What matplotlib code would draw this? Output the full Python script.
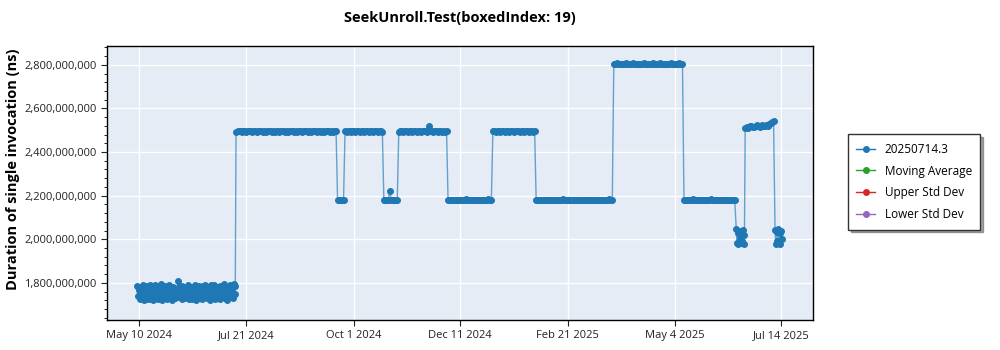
import matplotlib
matplotlib.use('Agg')
import matplotlib.pyplot as plt
import matplotlib.ticker as mticker
import pandas as pd

plt.rcParams['font.family'] = ['Open Sans', 'DejaVu Sans']

# values in millions of ns
# first block: two runs a day from May 9 2024
a_start = '2024-05-09'
seg_a = [1786, 1738, 1765, 1724, 1779, 1752, 1733, 1790, 1745, 1721,
         1771, 1758, 1728, 1784, 1741, 1769, 1725, 1792, 1749, 1736,
         1775, 1722, 1761, 1788, 1731, 1756, 1744, 1780, 1727, 1767,
         1739, 1793, 1753, 1720, 1776, 1747, 1734, 1785, 1760, 1726,
         1772, 1743, 1789, 1730, 1764, 1751, 1723, 1782, 1737, 1768,
         1729, 1774, 1755, 1742, 1808, 1733, 1781, 1746, 1762, 1727,
         1787, 1740, 1770, 1732, 1759, 1778, 1736, 1791, 1748, 1724,
         1766, 1744, 1783, 1728, 1773, 1754, 1735, 1789, 1742, 1721,
         1777, 1750, 1731, 1786, 1763, 1738, 1770, 1725, 1784, 1747,
         1734, 1792, 1757, 1729, 1779, 1741, 1768, 1722, 1788, 1752,
         1737, 1775, 1745, 1790, 1727, 1764, 1749, 1781, 1733, 1771,
         1726, 1785, 1758, 1739, 1776, 1744, 1793, 1730, 1767, 1748,
         1720, 1782, 1755, 1736, 1789, 1761, 1741, 1774, 1729, 1794,
         1750, 1787]

# one run a day from Jul 14 2024
main_start = '2024-07-14'
seg_b = [2494, 2496, 2495, 2497, 2493, 2495, 2496, 2494, 2495, 2498,
         2495, 2493, 2496, 2495, 2494, 2497, 2495, 2496, 2493, 2495,
         2494, 2496, 2495, 2497, 2494, 2495, 2493, 2496, 2495, 2494,
         2497, 2495, 2496, 2493, 2495, 2494, 2496, 2495, 2497, 2494,
         2495, 2493, 2496, 2495, 2494, 2498, 2495, 2496, 2494, 2495,
         2493, 2496, 2495, 2497, 2494, 2495, 2496, 2493, 2495, 2494,
         2496, 2495, 2497, 2494, 2495, 2493, 2496, 2495]
seg_c = [2181, 2179, 2182, 2180, 2181]
seg_d = [2495, 2494, 2496, 2495, 2493, 2497, 2495, 2494, 2496, 2495,
         2494, 2495, 2497, 2493, 2496, 2495, 2494, 2496, 2495, 2493,
         2495, 2497, 2494, 2496, 2495, 2494]
seg_e = [2180, 2181, 2179, 2182, 2222, 2180, 2178, 2181, 2180, 2182]
seg_f = [2494, 2496, 2495, 2493, 2497, 2495, 2494, 2496, 2495, 2494,
         2495, 2497, 2493, 2496, 2495, 2494, 2496, 2495, 2497, 2494,
         2521, 2495, 2496, 2493, 2495, 2497, 2494, 2495, 2496, 2494,
         2495, 2493, 2496]
seg_g = [2180, 2181, 2179, 2182, 2180, 2178, 2181, 2180, 2182, 2179,
         2181, 2180, 2183, 2179, 2180, 2181, 2178, 2182, 2180, 2181,
         2179, 2180, 2182, 2181, 2179, 2180, 2181, 2183, 2180, 2179]
seg_h = [2495, 2496, 2494, 2497, 2495, 2493, 2496, 2495, 2494, 2498,
         2495, 2494, 2496, 2495, 2493, 2497, 2495, 2496, 2494, 2495,
         2496, 2493, 2495, 2497, 2494, 2495, 2496, 2494, 2495]
seg_i = [2180, 2181, 2179, 2182, 2180, 2181, 2178, 2180, 2182, 2179,
         2181, 2180, 2179, 2182, 2180, 2181, 2179, 2180, 2183, 2181,
         2179, 2180, 2182, 2180, 2181, 2179, 2180, 2181, 2182, 2179,
         2180, 2181, 2180, 2178, 2182, 2180, 2181, 2179, 2180, 2182,
         2181, 2179, 2180, 2181, 2180, 2182, 2179, 2181, 2180, 2183,
         2180, 2181]
seg_j = [2806, 2805, 2807, 2804, 2806, 2805, 2803, 2806, 2807, 2805,
         2804, 2806, 2805, 2807, 2804, 2806, 2805, 2803, 2806, 2805,
         2807, 2804, 2806, 2805, 2806, 2804, 2807, 2805, 2806, 2804,
         2805, 2807, 2806, 2804, 2805, 2806, 2803, 2805, 2807, 2806,
         2804, 2805, 2806, 2804, 2807, 2805, 2806]
seg_k = [2181, 2180, 2182, 2179, 2181, 2180, 2183, 2180, 2181, 2179,
         2182, 2180, 2181, 2179, 2180, 2182, 2181, 2180, 2184, 2179,
         2181, 2180, 2182, 2181, 2179, 2180, 2181, 2182, 2180, 2179,
         2181, 2180, 2182, 2180, 2179]

# two runs a day
l_start = '2025-06-14'
seg_l = [2045, 1985, 2030, 1978, 2040, 2000, 1982, 2035, 1990, 2044, 1980, 2020]
# one run a day
m_start = '2025-06-20'
seg_m = [2508, 2515, 2512, 2518, 2521, 2516, 2514, 2520, 2523, 2519,
         2517, 2522, 2520, 2518, 2524, 2521, 2527, 2532, 2536, 2541]
# two runs a day
n_start = '2025-07-10'
seg_n = [2042, 1980, 2035, 1990, 2046, 1985, 2028, 1979, 2040, 2000]

tick_dates = ['2024-05-10', '2024-07-21', '2024-10-01', '2024-12-11',
              '2025-02-21', '2025-05-04', '2025-07-14']
tick_labels = ['May 10 2024', 'Jul 21 2024', 'Oct 1 2024', 'Dec 11 2024',
               'Feb 21 2025', 'May 4 2025', 'Jul 14 2025']

main = seg_b + seg_c + seg_d + seg_e + seg_f + seg_g + seg_h + seg_i + seg_j + seg_k
blocks = [(a_start, '12h', seg_a), (main_start, 'D', main), (l_start, '12h', seg_l),
          (m_start, 'D', seg_m), (n_start, '12h', seg_n)]
dates = []
ns = []
for start, freq, vals in blocks:
    dates += list(pd.date_range(start, periods=len(vals), freq=freq))
    ns += [v * 1e6 for v in vals]

fig = plt.figure(figsize=(10, 3.5), dpi=100)
ax = fig.add_axes([0.107, 0.086, 0.706, 0.783])
ax.set_facecolor('#E5ECF6')

blue = '#1f77b4'
ax.plot(dates, ns, color=(0.12, 0.47, 0.71, 0.65), lw=1.0, zorder=3)
ax.plot(dates, ns, ls='none', marker='o', ms=4, mfc=blue, mec=blue, zorder=4)
ax.plot([], [], color=blue, marker='o', ms=4, lw=1, label='20250714.3')
ax.plot([], [], color='#2ca02c', marker='o', ms=4, lw=1, label='Moving Average')
ax.plot([], [], color='#d62728', marker='o', ms=4, lw=1, label='Upper Std Dev')
ax.plot([], [], color='#9467bd', marker='o', ms=4, lw=1, label='Lower Std Dev')

ax.set_xlim(pd.Timestamp('2024-04-18 14:00'), pd.Timestamp('2025-08-04 10:00'))
ax.set_ylim(1.630e9, 2.887e9)
ax.set_xticks(pd.to_datetime(tick_dates))
ax.set_xticklabels(tick_labels)
ax.yaxis.set_major_locator(mticker.MultipleLocator(2e8))
ax.yaxis.set_minor_locator(mticker.AutoMinorLocator(5))
ax.yaxis.set_major_formatter(mticker.FuncFormatter(lambda v, p: f'{v:,.0f}'))
ax.tick_params(labelsize=8, colors='#222', length=4)
ax.tick_params(axis='y', which='minor', length=2)

ax.grid(True, color='white', lw=1)
ax.set_axisbelow(True)
for s in ax.spines.values():
    s.set_color('black')
    s.set_linewidth(1)

ax.set_title('SeekUnroll.Test(boxedIndex: 19)', fontsize=10.5, fontweight='bold', pad=17)
ax.set_ylabel('Duration of single invocation (ns)', fontsize=10.5, fontweight='bold')
ax.yaxis.set_label_coords(-0.123, 0.55)

leg = ax.legend(loc='center left', bbox_to_anchor=(0.848, 0.48),
                bbox_transform=fig.transFigure, fontsize=8.5, shadow=True,
                fancybox=False, edgecolor='#333', handlelength=1.6,
                borderpad=0.7, labelspacing=0.75, borderaxespad=0)
leg.get_frame().set_linewidth(1)

fig.savefig('out.png', dpi=100)
